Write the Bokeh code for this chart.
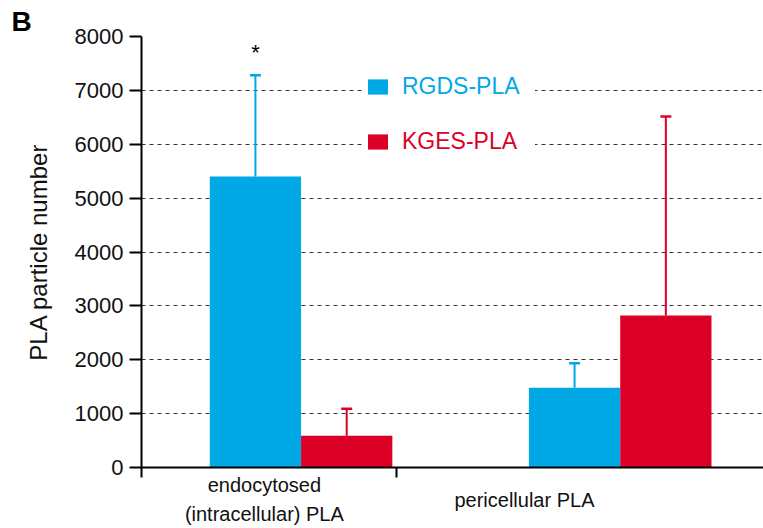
from bokeh.plotting import figure
from bokeh.models import (Range1d, FixedTicker, Whisker, ColumnDataSource, LinearAxis,
                          Legend, LegendItem, Title, TeeHead)
from bokeh.core.properties import value
from bokeh.embed import file_html
from bokeh.resources import INLINE

# ---- data ----
groups = ["endocytosed\n(intracellular) PLA", "pericellular PLA"]
group_x = [1, 2]
label_x = [0.885, 1.70]
divider_x = [0.5, 1.3]
rgds_mean = [5400, 1480]
rgds_sd = [1880, 455]
kges_mean = [590, 2820]
kges_sd = [500, 3695]
sig_x = [0.857]
sig_y = [7700]
sig_text = ["*"]
y_ticks = [0, 1000, 2000, 3000, 4000, 5000, 6000, 7000, 8000]

BLUE = "#00A8E6"
RED = "#DC0026"
FONT = "Liberation Sans"
offset = 0.143
bw = 0.286

p = figure(width=763, height=528, output_backend="svg", toolbar_location=None,
           x_range=Range1d(0.5, 2.449), y_range=Range1d(0, 8000),
           min_border_left=141, min_border_top=36, min_border_bottom=61, min_border_right=0)
p.outline_line_color = None
p.background_fill_color = "white"

p.add_layout(Title(text="B", align="left", offset=-130, standoff=0, vertical_align="bottom",
                   text_font=FONT, text_font_size="28px", text_font_style="bold",
                   text_color="black"), "above")

bx = [g - offset for g in group_x]
rx = [g + offset for g in group_x]
bsrc = ColumnDataSource(dict(x=bx, top=rgds_mean, up=[m + s for m, s in zip(rgds_mean, rgds_sd)]))
rsrc = ColumnDataSource(dict(x=rx, top=kges_mean, up=[m + s for m, s in zip(kges_mean, kges_sd)]))

rb = p.vbar(x="x", top="top", width=bw, source=bsrc, fill_color=BLUE, line_color=None)
rr = p.vbar(x="x", top="top", width=bw, source=rsrc, fill_color=RED, line_color=None)

for src, col in ((bsrc, BLUE), (rsrc, RED)):
    w = Whisker(base="x", lower="top", upper="up", source=src, line_color=col, line_width=2,
                lower_head=None,
                upper_head=TeeHead(size=11, line_color=col, line_width=2.5), level="annotation")
    p.add_layout(w)

p.text(x=sig_x, y=sig_y, text=sig_text, text_font=value(FONT), text_font_size="22px",
       text_align="center", text_baseline="alphabetic", text_color="black")

# y axis
p.yaxis.ticker = FixedTicker(ticks=y_ticks)
p.yaxis.axis_line_width = 2
p.yaxis.axis_line_color = "black"
p.yaxis.major_tick_line_width = 2
p.yaxis.major_tick_line_color = "black"
p.yaxis.major_tick_out = 12
p.yaxis.major_tick_in = 0
p.yaxis.minor_tick_line_color = None
p.yaxis.major_label_standoff = 6
p.yaxis.major_label_text_font = FONT
p.yaxis.major_label_text_font_size = "22px"
p.yaxis.major_label_text_color = "#111"
p.yaxis.axis_label = "PLA particle number"
p.yaxis.axis_label_text_font = FONT
p.yaxis.axis_label_text_font_size = "24px"
p.yaxis.axis_label_text_font_style = "normal"
p.yaxis.axis_label_text_color = "#111"
p.yaxis.axis_label_standoff = 20

# x axis (first category + group dividers)
xa = p.xaxis[0]
xa.ticker = FixedTicker(ticks=[label_x[0]], minor_ticks=divider_x)
xa.major_label_overrides = {label_x[0]: groups[0]}
xa.axis_line_width = 2
xa.axis_line_color = "black"
xa.major_tick_line_color = None
xa.major_tick_out = 0
xa.major_tick_in = 0
xa.minor_tick_line_color = "black"
xa.minor_tick_line_width = 2
xa.minor_tick_out = 10
xa.minor_tick_in = 0
xa.major_label_standoff = -4
xa.major_label_text_font = FONT
xa.major_label_text_font_size = "20px"
xa.major_label_text_line_height = 1.35
xa.major_label_text_color = "#111"

# second category label, pulled up beside the first
xb = LinearAxis(ticker=FixedTicker(ticks=[label_x[1]], minor_ticks=[]),
                major_label_overrides={label_x[1]: groups[1]},
                axis_line_color=None, major_tick_line_color=None, minor_tick_line_color=None,
                major_tick_out=0, major_tick_in=0, minor_tick_out=0, minor_tick_in=0,
                major_label_standoff=-40, major_label_text_font=FONT,
                major_label_text_font_size="20px", major_label_text_color="#111")
p.add_layout(xb, "below")

p.xgrid.grid_line_color = None
p.ygrid.ticker = FixedTicker(ticks=y_ticks[1:])
p.ygrid.grid_line_color = "#333333"
p.ygrid.grid_line_width = 1
p.ygrid.grid_line_dash = "4 4"

for item_label, rend, col, ly in (("RGDS-PLA", rb, BLUE, 367), ("KGES-PLA", rr, RED, 312)):
    lg = Legend(items=[LegendItem(label=item_label, renderers=[rend])], location=(224, ly),
                glyph_width=25, glyph_height=19, label_height=19, label_width=133,
                label_standoff=12, padding=3, spacing=0, margin=0,
                border_line_color=None, background_fill_color="white", background_fill_alpha=1,
                label_text_font=FONT, label_text_font_size="23px", label_text_color=col)
    p.add_layout(lg, "center")

open("out.html", "w").write(file_html(p, INLINE))
